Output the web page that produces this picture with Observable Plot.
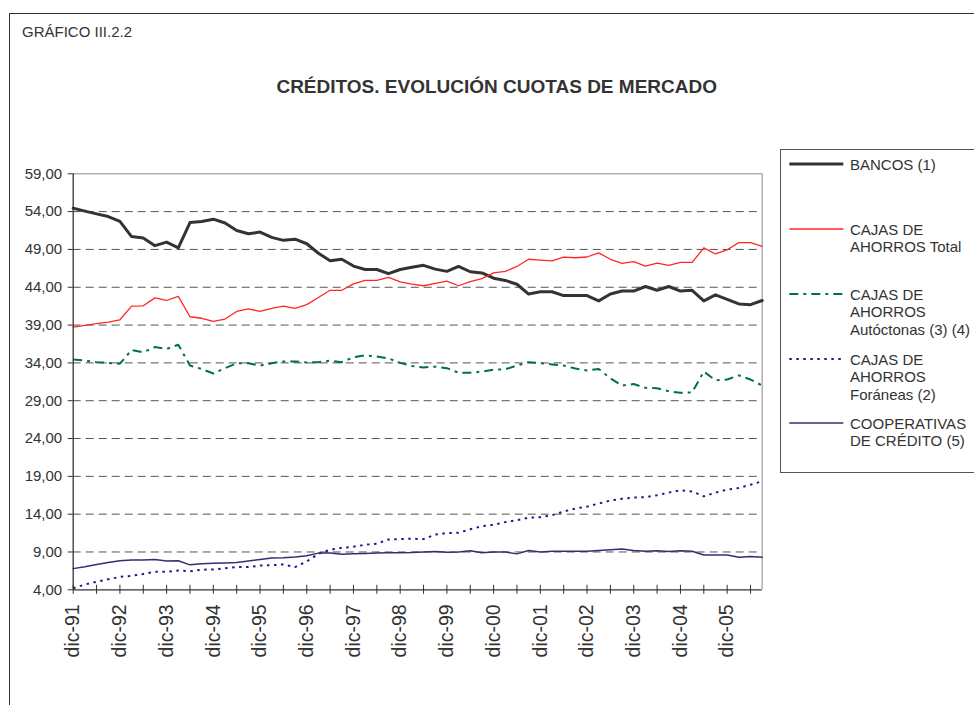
<!DOCTYPE html>
<html><head><meta charset="utf-8">
<script src="https://cdn.jsdelivr.net/npm/d3@7"></script>
<script src="https://cdn.jsdelivr.net/npm/@observablehq/plot@0.6"></script>
<style>
html,body{margin:0;padding:0;background:#fff;overflow:hidden;}
#wrap{position:relative;width:974px;height:705px;overflow:hidden;font-family:"Liberation Sans",Arial,sans-serif;color:#333;}
#frame{position:absolute;left:9px;top:13px;width:1100px;height:1100px;border:1px solid #333;}
#chart{position:absolute;left:0;top:0;}
.t{position:absolute;white-space:nowrap;line-height:1;}
#legend{position:absolute;left:780px;top:149px;width:230px;height:322px;border:1px solid #555;}
.li{position:absolute;left:850px;font-size:15px;line-height:17.7px;color:#333;white-space:nowrap;}
.sw{position:absolute;left:788px;}
</style></head><body><div id="wrap">
<div id="frame"></div>
<div id="chart"></div>
<div class="t" style="left:22px;top:24px;font-size:15px;">GRÁFICO III.2.2</div>
<div class="t" style="left:0;width:993.4px;text-align:center;top:77.2px;font-size:19px;font-weight:bold;">CRÉDITOS. EVOLUCIÓN CUOTAS DE MERCADO</div>
<div id="legend"></div>
<div id="legitems"></div>
</div>
<script>
const periods = ["dic-91","mar-92","jun-92","sep-92","dic-92","mar-93","jun-93","sep-93","dic-93","mar-94","jun-94","sep-94","dic-94","mar-95","jun-95","sep-95","dic-95","mar-96","jun-96","sep-96","dic-96","mar-97","jun-97","sep-97","dic-97","mar-98","jun-98","sep-98","dic-98","mar-99","jun-99","sep-99","dic-99","mar-00","jun-00","sep-00","dic-00","mar-01","jun-01","sep-01","dic-01","mar-02","jun-02","sep-02","dic-02","mar-03","jun-03","sep-03","dic-03","mar-04","jun-04","sep-04","dic-04","mar-05","jun-05","sep-05","dic-05","mar-06","jun-06","sep-06"];
const tickLabels = ["dic-91","dic-92","dic-93","dic-94","dic-95","dic-96","dic-97","dic-98","dic-99","dic-00","dic-01","dic-02","dic-03","dic-04","dic-05"];
const yTicks = [4,9,14,19,24,29,34,39,44,49,54,59];

const bancos = [54.45,54.06,53.7,53.35,52.7,50.7,50.5,49.5,49.96,49.2,
52.56,52.7,53.0,52.5,51.5,51.07,51.3,50.6,50.2,50.35,
49.75,48.5,47.5,47.7,46.8,46.35,46.35,45.8,46.35,46.65,
46.9,46.4,46.1,46.75,46.05,45.9,45.2,44.9,44.4,43.1,
43.4,43.4,42.9,42.9,42.9,42.2,43.1,43.5,43.5,44.1,
43.6,44.1,43.5,43.6,42.2,43.0,42.4,41.8,41.7,42.25];
const cajasTotal = [38.73,38.95,39.2,39.4,39.7,41.5,41.55,42.6,42.25,42.8,
40.1,39.9,39.5,39.8,40.8,41.15,40.8,41.2,41.5,41.2,
41.7,42.65,43.6,43.6,44.45,44.9,44.9,45.3,44.7,44.4,
44.2,44.5,44.8,44.2,44.75,45.15,45.9,46.1,46.75,47.7,
47.6,47.5,47.98,47.9,48.0,48.55,47.7,47.15,47.4,46.8,
47.2,46.9,47.3,47.3,49.2,48.4,48.95,49.9,49.9,49.4];
const autoctonas = [34.45,34.3,34.1,34.0,33.9,35.7,35.4,36.1,35.85,36.4,
33.65,33.2,32.6,33.3,33.95,33.95,33.65,33.95,34.2,34.2,
34.05,34.1,34.3,34.1,34.75,35.0,34.85,34.6,34.0,33.6,
33.4,33.5,33.3,32.7,32.7,32.85,33.1,33.15,33.65,34.1,
33.95,33.8,33.65,33.25,33.0,33.2,31.95,31.0,31.2,30.7,
30.65,30.25,30.05,30.1,32.85,31.7,31.8,32.35,31.8,31.0];
const foraneas = [4.2,4.7,5.05,5.4,5.7,5.85,6.1,6.4,6.4,6.55,
6.45,6.65,6.7,6.85,7.0,7.0,7.2,7.25,7.35,7.0,
7.75,8.75,9.3,9.55,9.7,9.95,10.1,10.65,10.7,10.75,
10.7,11.3,11.5,11.55,12.0,12.4,12.6,12.95,13.2,13.55,
13.6,13.85,14.35,14.75,15.0,15.4,15.8,16.05,16.2,16.25,
16.5,16.85,17.15,17.0,16.35,16.85,17.25,17.45,17.9,18.35];
const cooperativas = [6.8,7.05,7.35,7.6,7.85,7.95,7.95,8.0,7.8,7.85,
7.3,7.45,7.5,7.55,7.6,7.8,8.0,8.2,8.25,8.35,
8.5,8.85,8.85,8.7,8.75,8.8,8.85,8.9,8.9,8.92,
9.0,9.05,8.95,9.0,9.15,8.9,9.0,9.0,8.75,9.2,
9.0,9.1,9.1,9.1,9.1,9.2,9.3,9.4,9.2,9.1,
9.15,9.05,9.15,9.1,8.6,8.6,8.6,8.3,8.4,8.3];

const seriesDefs = [
  {name: "BANCOS (1)", values: bancos, stroke: "#333333", width: 3, dash: null, lines: ["BANCOS (1)"]},
  {name: "CAJAS DE AHORROS Total", values: cajasTotal, stroke: "#ff2626", width: 1.3, dash: null, lines: ["CAJAS DE", "AHORROS Total"]},
  {name: "CAJAS DE AHORROS Autóctonas (3) (4)", values: autoctonas, stroke: "#00704a", width: 2, dash: "9,5,3,5", lines: ["CAJAS DE", "AHORROS", "Autóctonas (3) (4)"]},
  {name: "CAJAS DE AHORROS Foráneas (2)", values: foraneas, stroke: "#1c1c8c", width: 2, dash: "2.5,4.5", lines: ["CAJAS DE", "AHORROS", "Foráneas (2)"]},
  {name: "COOPERATIVAS DE CRÉDITO (5)", values: cooperativas, stroke: "#303070", width: 1.5, dash: null, lines: ["COOPERATIVAS", "DE CRÉDITO (5)"]}
];

const tickMarks = periods.filter((p, i) => i % 2 === 0);
const fmt = d => d.toFixed(2).replace(".", ",");

const lineMarks = seriesDefs.map(s => Plot.line(periods.map((p, i) => ({p, v: s.values[i]})), {
  x: "p", y: "v", stroke: s.stroke, strokeWidth: s.width,
  strokeDasharray: s.dash || undefined, strokeLinejoin: "round", strokeLinecap: s.dash ? "butt" : "round"
}));

const chart = Plot.plot({
  width: 974, height: 705,
  marginLeft: 72.7, marginRight: 212.3, marginTop: 173.3, marginBottom: 115.7,
  style: {fontFamily: "'Liberation Sans', Arial, sans-serif", fontSize: "15px", color: "#333", background: "transparent", overflow: "visible"},
  x: {type: "point", domain: periods, padding: 0},
  y: {domain: [4, 59]},
  marks: [
    Plot.ruleY(yTicks.filter(t => t > 4 && t < 59), {stroke: "#555", strokeWidth: 1, strokeDasharray: "8,5"}),
    Plot.ruleY([59], {stroke: "#8a8a8a", strokeWidth: 1}),
    Plot.ruleX([periods[periods.length - 1]], {stroke: "#b5adad", strokeWidth: 1.5}),
    ...lineMarks,
    Plot.ruleX([periods[0]], {stroke: "#333", strokeWidth: 1.3}),
    Plot.ruleY([4], {stroke: "#333", strokeWidth: 1.3}),
    Plot.ruleX(tickMarks, {x: d => d, y1: 3.4, y2: 4.6, stroke: "#333", strokeWidth: 1}),
    Plot.axisY(yTicks, {anchor: "left", tickSize: 5, tickPadding: 6, tickFormat: fmt, fontSize: 15, label: null, stroke: "#333"}),
    Plot.axisX(tickLabels, {anchor: "bottom", tickSize: 0, tickPadding: 14.5, tickRotate: -90, fontSize: 19.5, label: null})
  ]
});
document.getElementById("chart").appendChild(chart);

// legend
const legRows = [164.3, 229.3, 294.3, 359.3, 423.3];
const li = document.getElementById("legitems");
seriesDefs.forEach((s, k) => {
  const y = legRows[k];
  const sw = document.createElementNS("http://www.w3.org/2000/svg", "svg");
  sw.setAttribute("class", "sw");
  sw.setAttribute("width", 58); sw.setAttribute("height", 8);
  sw.style.top = (y - 4) + "px";
  const ln = document.createElementNS("http://www.w3.org/2000/svg", "line");
  ln.setAttribute("x1", 1.3); ln.setAttribute("x2", 55.3); ln.setAttribute("y1", 4); ln.setAttribute("y2", 4);
  ln.setAttribute("stroke", s.stroke); ln.setAttribute("stroke-width", s.width);
  if (s.dash) ln.setAttribute("stroke-dasharray", s.dash);
  sw.appendChild(ln);
  li.appendChild(sw);
  const d = document.createElement("div");
  d.className = "li";
  d.style.top = (y - 8.7) + "px";
  d.innerHTML = s.lines.join("<br>");
  li.appendChild(d);
});
</script>
</body></html>
